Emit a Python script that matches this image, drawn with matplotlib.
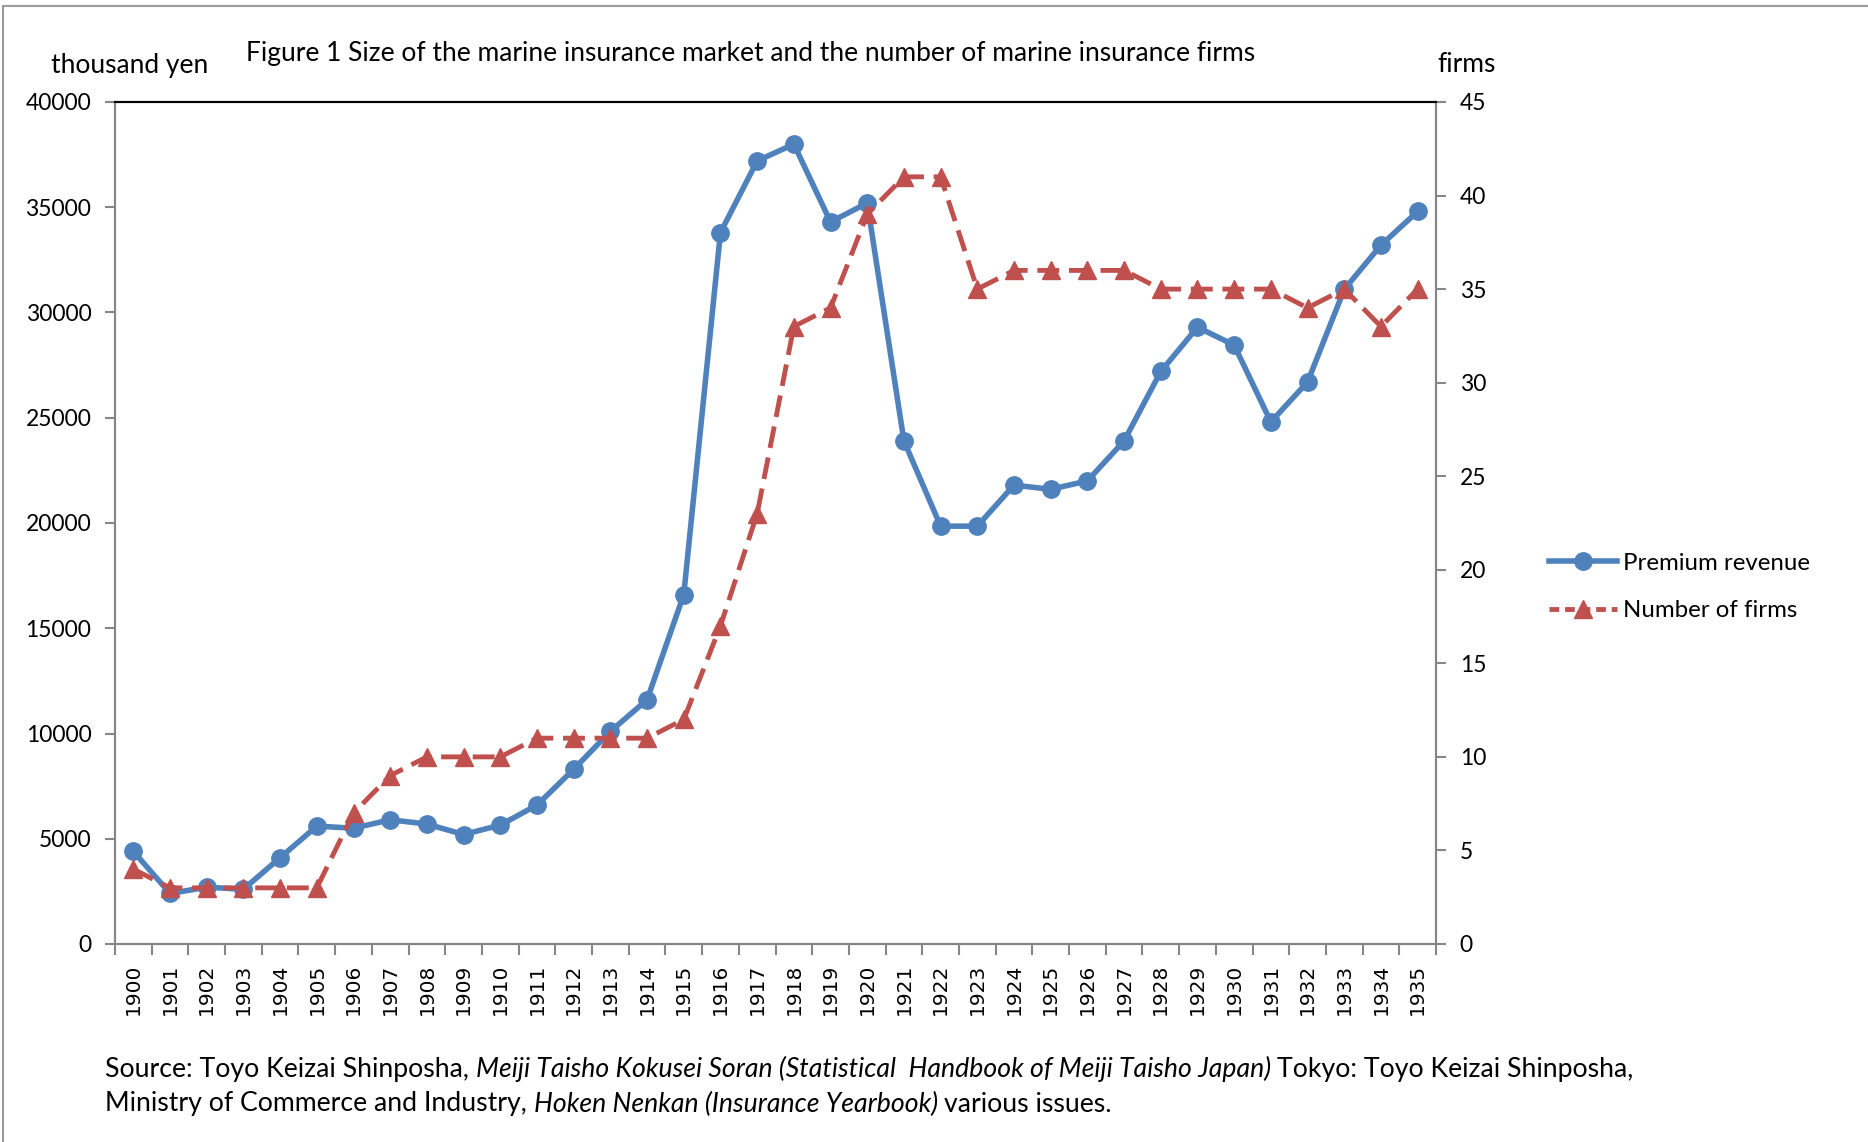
import matplotlib
matplotlib.use('Agg')
import matplotlib.pyplot as plt
from matplotlib.lines import Line2D
from matplotlib.patches import Rectangle

# data
years = ['1900', '1901', '1902', '1903', '1904', '1905', '1906', '1907', '1908', '1909',
         '1910', '1911', '1912', '1913', '1914', '1915', '1916', '1917', '1918', '1919',
         '1920', '1921', '1922', '1923', '1924', '1925', '1926', '1927', '1928', '1929',
         '1930', '1931', '1932', '1933', '1934', '1935']
premium = [4400, 2400, 2700, 2600, 4100, 5600, 5500, 5900, 5700, 5200,
           5650, 6600, 8300, 10100, 11600, 16600, 33800, 37200, 38000, 34300,
           35200, 23900, 19850, 19850, 21800, 21600, 22000, 23900, 27200, 29300,
           28450, 24800, 26700, 31100, 33200, 34800]
firms = [4, 3, 3, 3, 3, 3, 7, 9, 10, 10,
         10, 11, 11, 11, 11, 12, 17, 23, 33, 34,
         39, 41, 41, 35, 36, 36, 36, 36, 35, 35,
         35, 35, 34, 35, 33, 35]
left_ticks = [0, 5000, 10000, 15000, 20000, 25000, 30000, 35000, 40000]
right_ticks = [0, 5, 10, 15, 20, 25, 30, 35, 40, 45]

W, H = 1868, 1142
BLUE = '#4F81BD'
RED = '#C0504D'
GREY = '#868686'
FS = 19          # titles
NOTE_FS = 19.2   # source note
TICK_FS = 16.5   # y tick labels
LEG_FS = 17.3

plt.rcParams['font.family'] = ['Lato', 'DejaVu Sans']

fig = plt.figure(figsize=(W / 100, H / 100), dpi=100)

# grey frame around the whole chart (right and bottom are cut off)
fig.add_artist(Rectangle((3 / W, -0.1), 2, 1.1 - 6 / H, transform=fig.transFigure,
                         fill=False, edgecolor='#9a9a9a', lw=1.5))

ax = fig.add_axes([115 / W, 1 - 944 / H, 1321 / W, 842 / H])
pos = list(range(len(years)))

ax.plot(pos, premium, color=BLUE, lw=4, marker='o', ms=12.5, mew=1, mec=BLUE,
        clip_on=False, zorder=3)
ax.set_xlim(-0.5, len(years) - 0.5)
ax.set_ylim(0, 40000)
ax.set_yticks(left_ticks)
ax.set_yticklabels([str(v) for v in left_ticks])

ax2 = ax.twinx()
ax2.plot(pos, firms, color=RED, lw=3.5, ls=(0, (4.5, 2)), marker='^', ms=13, mew=1,
         mec=RED, clip_on=False, zorder=3)
ax2.set_ylim(0, 45)
ax2.set_yticks(right_ticks)
ax2.set_yticklabels([str(v) for v in right_ticks])

ax.set_xticks(pos)
ax.set_xticklabels(years, rotation=90, fontfamily='DejaVu Sans', fontsize=14.5)
ax.set_xticks([p - 0.5 for p in pos] + [len(years) - 0.5], minor=True)
ax.tick_params(axis='x', which='major', length=0, pad=14)
ax.tick_params(axis='x', which='minor', length=8, width=1.5, color=GREY)
ax.tick_params(axis='y', length=7, width=1.5, color=GREY, pad=10, labelsize=TICK_FS)
ax2.tick_params(axis='y', length=7, width=1.5, color=GREY, pad=10, labelsize=TICK_FS)

for a in (ax, ax2):
    for s in ('left', 'right', 'bottom'):
        a.spines[s].set_color(GREY)
        a.spines[s].set_linewidth(1.5)
    a.spines['top'].set_color('black')
    a.spines['top'].set_linewidth(1.5)

fig.text(130 / W, 1 - 66 / H, 'thousand yen', ha='center', va='center', fontsize=FS)
fig.text(1437 / W, 1 - 64 / H, 'firms', ha='left', va='center', fontsize=FS)
fig.text(751 / W, 1 - 54 / H,
         'Figure 1 Size of the marine insurance market and the number of marine insurance firms',
         ha='center', va='center', fontsize=FS)

handles = [Line2D([], [], color=BLUE, lw=4, marker='o', ms=12.5),
           Line2D([], [], color=RED, lw=3.5, ls=(0, (2, 1.2)), marker='^', ms=13)]
fig.legend(handles, ['Premium revenue', 'Number of firms'], loc='center left',
           bbox_to_anchor=(1549 / W, 1 - 587 / H), frameon=False, fontsize=LEG_FS,
           borderpad=0, borderaxespad=0, handlelength=2.85, handletextpad=0.22,
           labelspacing=1.1)

# source note with italic titles
renderer = fig.canvas.get_renderer()


def width_px(s, style):
    t = fig.text(0, 0, s, fontsize=NOTE_FS, fontstyle=style)
    w = t.get_window_extent(renderer=renderer).width
    t.remove()
    return w


def write_line(parts, x, y):
    for s, style in parts:
        fig.text(x / W, 1 - y / H, s, fontsize=NOTE_FS, fontstyle=style, va='center')
        x += width_px(s, style) + width_px('a a', style) - width_px('aa', style)


write_line([('Source: Toyo Keizai Shinposha,', 'normal'),
            ('Meiji Taisho Kokusei Soran (Statistical  Handbook of Meiji Taisho Japan)', 'italic'),
            ('Tokyo: Toyo Keizai Shinposha,', 'normal')], 105, 1069)
write_line([('Ministry of Commerce and Industry,', 'normal'),
            ('Hoken Nenkan (Insurance Yearbook)', 'italic'),
            ('various issues.', 'normal')], 105, 1104)

fig.savefig('out.png', dpi=100)
